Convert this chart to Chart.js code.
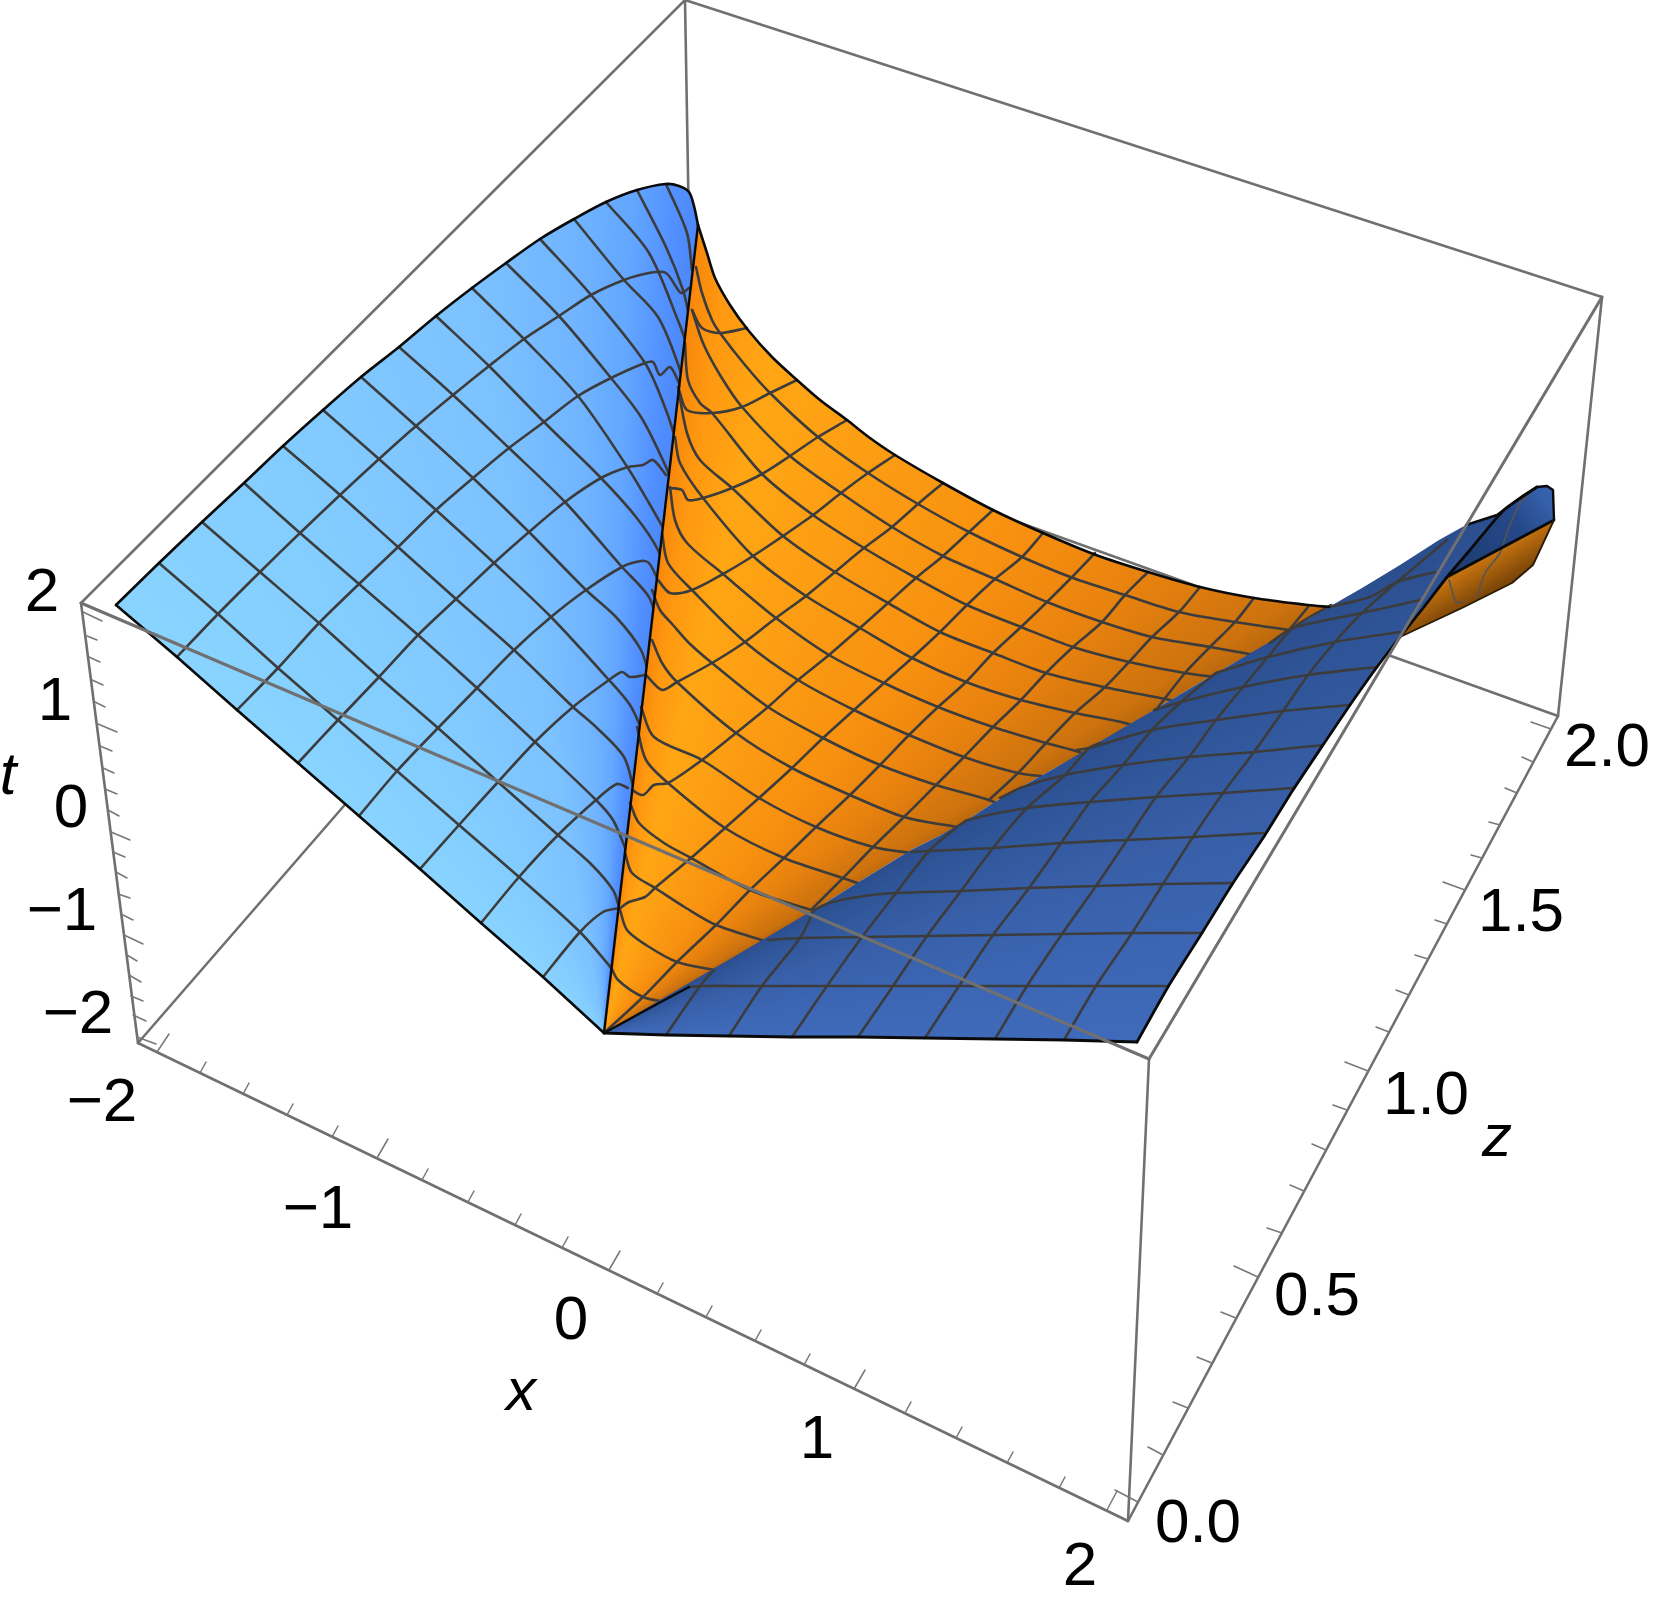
<!DOCTYPE html>
<html>
<head>
<meta charset="utf-8">
<title>Surface plot</title>
<script src="https://cdn.jsdelivr.net/npm/chart.js@4"></script>
<style>
  html, body { margin: 0; padding: 0; background: #fff; }
  canvas { display: block; }
</style>
</head>
<body>
<canvas id="plot" width="1661" height="1603"></canvas>
<script>
const boxBack = [
  [[81, 603], [685, 0]], [[685, 0], [1602, 297]], [[685, 0], [692, 405]],
  [[138, 1043], [692, 405]], [[1558, 716], [692, 405]], [[1602, 297], [1558, 716]],
  [[81, 603], [138, 1043]], [[138, 1043], [1128, 1521]], [[1128, 1521], [1558, 716]],
  [[1128, 1521], [1149, 1059]],
];
const boxFront = [[[81, 603], [1149, 1059]], [[1149, 1059], [1602, 297]]];

const lightTop = [[116, 605], [159, 563], [202, 522], [244, 483], [283, 446], [323, 410], [361, 377], [399, 347], [436, 316], [472, 288], [506, 263], [540, 239], [574, 219], [606, 202], [637, 190], [666, 184], [679, 186], [689, 192], [694, 206], [698, 225]];
const lightBottom = [[604, 1033], [543, 977], [481, 923], [420, 869], [359, 816], [298, 763], [237, 710], [177, 657], [116, 605]];
const seam = [[698, 225], [604, 1033]];

const lightRows = [
  [[159, 563], [218, 614], [278, 668], [338, 720], [397, 771], [459, 825], [519, 877], [580, 932], [613, 970]],
  [[202, 522], [260, 572], [319, 623], [379, 677], [438, 728], [498, 782], [558, 835], [590, 863], [613, 890], [620, 910]],
  [[244, 483], [300, 533], [359, 584], [418, 635], [477, 688], [535, 742], [596, 800], [613, 820], [626, 850]],
  [[283, 446], [340, 495], [398, 547], [456, 599], [514, 650], [573, 707], [597, 728], [624, 757], [634, 790]],
  [[323, 410], [379, 459], [436, 510], [494, 563], [551, 617], [609, 680], [630, 705], [642, 730]],
  [[361, 377], [416, 426], [473, 478], [529, 532], [586, 590], [616, 617], [641, 650], [650, 680]],
  [[399, 347], [453, 395], [509, 448], [565, 502], [622, 567], [649, 597], [658, 625]],
  [[436, 316], [489, 366], [544, 422], [601, 478], [636, 517], [658, 550], [668, 580]],
  [[472, 288], [524, 339], [578, 396], [626, 465], [649, 503], [666, 533]],
  [[506, 263], [559, 316], [611, 378], [641, 417], [666, 467], [674, 490]],
  [[540, 239], [591, 295], [645, 363], [666, 410], [679, 450]],
  [[574, 219], [624, 280], [658, 317], [679, 367], [686, 395]],
  [[606, 202], [649, 253], [679, 323], [687, 345]],
  [[637, 190], [666, 247], [683, 290], [690, 320]],
  [[666, 184], [687, 233], [692, 270]],
];
const lightCols = [
  [[177, 657], [218, 614], [260, 572], [300, 533], [340, 495], [379, 459], [416, 426], [453, 395], [489, 366], [524, 339], [559, 316], [591, 295], [624, 280], [649, 273], [666, 273], [681, 293], [689, 288]],
  [[237, 710], [278, 668], [319, 623], [359, 584], [398, 547], [436, 510], [473, 478], [509, 448], [544, 422], [578, 396], [611, 378], [645, 363], [653, 362], [660, 375], [670, 367], [680, 385]],
  [[298, 763], [338, 720], [379, 677], [418, 635], [456, 599], [494, 563], [529, 532], [565, 502], [601, 478], [628, 467], [643, 465], [653, 460], [666, 475]],
  [[359, 816], [397, 771], [438, 728], [477, 688], [514, 650], [551, 617], [586, 590], [622, 567], [641, 561], [649, 563], [658, 580]],
  [[420, 869], [459, 825], [498, 782], [535, 742], [573, 707], [609, 680], [622, 672], [630, 677], [645, 675]],
  [[481, 923], [519, 877], [558, 835], [596, 800], [617, 784], [628, 788]],
  [[543, 977], [580, 932], [603, 912], [619, 908]],
];

const orangeTop = [[698, 225], [707, 253], [715, 278], [730, 305], [748, 330], [772, 357], [797, 380], [820, 400], [847, 420], [870, 438], [895, 455], [943, 483], [993, 510], [1043, 533], [1096, 555], [1148, 572], [1200, 587], [1254, 598], [1308, 605], [1329, 607]];
const ridge = [[1329, 607], [1270, 643], [1216, 673], [1154, 710], [1100, 743], [1046, 773], [993, 803], [957, 827], [911, 850], [857, 883], [814, 910], [768, 940], [714, 970], [689, 987], [659, 1003], [604, 1033]];

const orangeRows = [
  [[696, 267], [702, 293], [712, 320], [720, 333], [745, 365], [770, 393], [818, 437], [868, 473], [918, 504], [969, 532], [1022, 557], [1073, 578], [1125, 595], [1179, 612], [1235, 622], [1289, 630]],
  [[692, 310], [703, 343], [720, 375], [742, 407], [790, 456], [841, 493], [892, 527], [943, 556], [995, 579], [1047, 602], [1102, 622], [1152, 637], [1210, 647], [1266, 657]],
  [[685, 343], [688, 380], [700, 403], [712, 413], [762, 474], [813, 515], [864, 548], [916, 578], [967, 605], [1021, 627], [1073, 647], [1129, 662], [1185, 673], [1240, 680]],
  [[678, 387], [687, 433], [700, 460], [732, 488], [783, 536], [835, 572], [888, 603], [940, 632], [993, 653], [1046, 673], [1104, 687], [1160, 698], [1210, 708]],
  [[675, 437], [680, 463], [703, 498], [753, 556], [806, 596], [860, 628], [912, 658], [966, 682], [1021, 700], [1075, 713], [1125, 723], [1160, 735]],
  [[670, 487], [675, 520], [687, 543], [723, 574], [776, 618], [829, 655], [884, 683], [938, 707], [993, 727], [1046, 743], [1079, 752], [1100, 760]],
  [[662, 533], [668, 563], [692, 590], [745, 642], [798, 680], [854, 710], [909, 735], [964, 757], [1018, 773], [1050, 777]],
  [[652, 590], [660, 610], [673, 625], [689, 643], [712, 663], [768, 707], [823, 738], [880, 765], [936, 785], [989, 800], [1010, 810]],
  [[652, 640], [662, 663], [677, 682], [736, 733], [792, 768], [850, 795], [904, 817], [957, 827]],
  [[641, 707], [654, 737], [702, 760], [759, 798], [816, 827], [873, 847], [911, 853]],
  [[637, 727], [646, 760], [668, 783], [725, 828], [784, 858], [843, 878], [860, 884]],
  [[630, 803], [639, 823], [664, 843], [691, 858], [750, 890], [811, 910]],
  [[625, 853], [632, 873], [655, 888], [686, 908], [716, 925], [768, 942]],
  [[620, 910], [627, 930], [646, 945], [677, 962], [714, 970]],
  [[611, 967], [618, 980], [643, 997], [666, 1002]],
];
const orangeCols = [
  [[692, 310], [702, 328], [720, 333], [747, 328]],
  [[679, 390], [687, 410], [712, 413], [742, 407], [770, 393], [797, 380]],
  [[670, 488], [682, 490], [688, 500], [703, 498], [732, 488], [762, 474], [790, 456], [818, 437], [847, 420]],
  [[658, 580], [670, 593], [692, 590], [723, 574], [753, 556], [783, 536], [813, 515], [841, 493], [868, 473], [895, 455]],
  [[646, 675], [662, 690], [677, 682], [712, 663], [745, 642], [776, 618], [806, 596], [835, 572], [864, 548], [892, 527], [918, 504], [943, 483]],
  [[632, 790], [643, 795], [654, 785], [668, 783], [702, 760], [736, 733], [768, 707], [798, 680], [829, 655], [860, 628], [888, 603], [916, 578], [943, 556], [969, 532], [993, 510]],
  [[618, 910], [629, 902], [645, 897], [655, 888], [691, 858], [725, 828], [759, 798], [792, 768], [823, 738], [854, 710], [884, 683], [912, 658], [940, 632], [967, 605], [995, 579], [1022, 557], [1043, 533]],
  [[604, 1033], [643, 997], [677, 962], [716, 925], [750, 890], [784, 858], [816, 827], [850, 795], [880, 765], [909, 735], [938, 707], [966, 682], [993, 653], [1021, 627], [1047, 602], [1072, 577], [1095, 553]],
  [[811, 910], [843, 878], [873, 847], [904, 817], [936, 785], [964, 757], [993, 727], [1021, 700], [1046, 673], [1073, 647], [1102, 622], [1125, 595], [1148, 572]],
  [[989, 800], [1018, 773], [1046, 743], [1075, 713], [1104, 688], [1129, 662], [1152, 637], [1179, 612], [1200, 587]],
  [[1156, 710], [1185, 673], [1210, 647], [1235, 622], [1254, 598]],
  [[1266, 657], [1289, 630], [1308, 607]],
];

const darkTop = [[1329, 607], [1362, 588], [1400, 565], [1439, 540], [1466, 525], [1497, 515], [1524, 495], [1537, 487]];
const darkRight = [[1537, 487], [1504, 510], [1470, 550], [1447, 577], [1424, 607], [1400, 637], [1377, 667], [1350, 705], [1323, 745], [1293, 790], [1265, 835], [1233, 883], [1202, 933], [1168, 987], [1137, 1042]];
const darkBottom = [[1137, 1042], [1064, 1040], [995, 1039], [925, 1038], [858, 1037], [792, 1037], [729, 1036], [666, 1035], [604, 1033]];

const darkRows = [
  [[689, 987], [700, 986], [762, 986], [827, 986], [893, 986], [959, 986], [1027, 986], [1096, 986], [1168, 986]],
  [[768, 940], [800, 938], [862, 937], [927, 936], [993, 935], [1062, 934], [1132, 933], [1202, 933]],
  [[814, 910], [829, 903], [864, 896], [896, 893], [961, 891], [1029, 888], [1096, 886], [1163, 884], [1233, 883]],
  [[911, 852], [929, 851], [993, 848], [1061, 843], [1127, 840], [1193, 837], [1263, 833]],
  [[957, 827], [968, 820], [1027, 808], [1090, 802], [1156, 797], [1223, 793], [1293, 788]],
  [[1000, 798], [1023, 787], [1065, 775], [1123, 765], [1189, 757], [1254, 752], [1323, 745]],
  [[1077, 750], [1089, 748], [1152, 730], [1216, 720], [1283, 711], [1350, 705]],
  [[1154, 710], [1181, 702], [1243, 687], [1308, 675], [1377, 667]],
  [[1216, 673], [1268, 657], [1335, 642], [1400, 632]],
  [[1270, 643], [1293, 628], [1362, 613], [1420, 600]],
  [[1329, 607], [1370, 597], [1397, 582], [1435, 572]],
];
const darkCols = [
  [[666, 1035], [700, 986], [714, 970]],
  [[729, 1036], [762, 986], [800, 938], [814, 910]],
  [[792, 1037], [827, 986], [862, 937], [896, 893], [929, 851], [957, 827]],
  [[858, 1037], [893, 986], [927, 936], [961, 891], [993, 848], [1027, 808], [1065, 775], [1089, 748], [1100, 743]],
  [[925, 1038], [959, 986], [993, 935], [1029, 888], [1061, 843], [1090, 802], [1123, 765], [1152, 730], [1181, 702], [1216, 673]],
  [[995, 1039], [1027, 986], [1062, 934], [1096, 886], [1127, 840], [1156, 797], [1189, 757], [1216, 720], [1243, 687], [1268, 657], [1293, 628], [1331, 605]],
  [[1064, 1040], [1096, 986], [1132, 933], [1163, 884], [1193, 837], [1223, 793], [1254, 752], [1283, 711], [1308, 675], [1335, 642], [1362, 613], [1397, 582], [1447, 540]],
];

const tipOrange = [[1447, 577], [1554, 520], [1533, 565], [1512, 583], [1462, 608], [1400, 637]];
const tipBlue = [[1447, 577], [1470, 550], [1504, 510], [1537, 487], [1547, 486], [1553, 490], [1554, 520]];
const tipMesh = [
  [[1449, 580], [1456, 602], [1464, 602]],
  [[1477, 597], [1485, 573], [1500, 553], [1508, 530], [1520, 503], [1533, 490]],
];

const tTicks = [
  [83, 612, 102, 621], [87, 636, 97, 640], [89, 657, 100, 662], [92, 680, 103, 685], [95, 702, 105, 707],
  [98, 724, 117, 732], [100, 746, 112, 751], [103, 768, 114, 773], [105, 789, 117, 794], [108, 810, 119, 816],
  [111, 832, 130, 840], [113, 852, 125, 857], [116, 872, 127, 878], [118, 894, 130, 898], [121, 914, 133, 920],
  [124, 935, 143, 944], [127, 955, 137, 961], [129, 975, 141, 982], [131, 996, 143, 1001], [133, 1015, 146, 1021],
  [137, 1037, 156, 1044],
];
const xTicks = [
  [157, 1052, 169, 1034], [200, 1073, 206, 1062], [243, 1094, 249, 1083], [287, 1115, 293, 1104], [332, 1137, 338, 1126],
  [377, 1158, 388, 1139], [422, 1180, 428, 1169], [468, 1202, 474, 1191], [515, 1225, 521, 1214], [562, 1248, 568, 1237],
  [609, 1270, 620, 1251], [657, 1294, 663, 1283], [706, 1317, 712, 1306], [755, 1341, 761, 1330], [804, 1365, 810, 1354],
  [854, 1389, 865, 1370], [905, 1413, 911, 1402], [956, 1438, 962, 1427], [1007, 1463, 1013, 1452], [1059, 1488, 1065, 1477],
  [1107, 1510, 1117, 1491],
];
const zTicks = [
  [1138, 1502, 1115, 1490], [1163, 1455, 1148, 1447], [1188, 1408, 1173, 1402], [1212, 1363, 1197, 1357], [1236, 1318, 1221, 1312],
  [1258, 1277, 1234, 1266], [1282, 1233, 1267, 1228], [1304, 1191, 1290, 1185], [1326, 1150, 1312, 1144], [1347, 1110, 1333, 1105],
  [1368, 1071, 1345, 1062], [1389, 1032, 1376, 1027], [1409, 995, 1396, 990], [1428, 959, 1415, 955], [1447, 924, 1435, 920],
  [1465, 890, 1443, 882], [1482, 858, 1471, 855], [1500, 825, 1489, 822], [1517, 793, 1505, 788], [1533, 762, 1522, 757],
  [1551, 729, 1531, 722],
];

const tickLabels = [
  ["2", 42, 594], ["1", 55, 703], ["0", 71, 810], ["\u22121", 62, 913], ["\u22122", 78, 1016],
  ["\u22122", 102, 1104], ["\u22121", 318, 1211], ["0", 571, 1322], ["1", 817, 1441], ["2", 1080, 1568],
  ["0.0", 1198, 1525], ["0.5", 1317, 1298], ["1.0", 1426, 1097], ["1.5", 1521, 914], ["2.0", 1607, 749],
];
const axisLabels = [["t", 8, 777], ["x", 521, 1393], ["z", 1497, 1139]];

const fanApex = [604, 1033];
const lightShades = [[-140, "#89d4ff"], [-120, "#83ccff"], [-100, "#7cc2ff"], [-92, "#70b4ff"], [-88, "#62a6ff"], [-85, "#528fff"], [-83, "#4a86f5"]];
const orangeShades = [[-84, "#f5820a"], [-81, "#ff9810"], [-76, "#ffa614"], [-62, "#fb9a12"], [-50, "#f7900f"], [-40, "#e8820e"], [-32, "#cc720e"], [-30, "#b5650c"]];
const darkShades = [[-31, "#2b4d8d"], [-27, "#2f5598"], [-18, "#385fa8"], [-8, "#3c66b3"], [0, "#3f6ab9"]];

const meshColor = "#3c3c3c";
const edgeColor = "#0a0a0a";
const boxColor = "#707070";
const tickColor = "#777777";

function fanShade(shades) {
  return function (context) {
    const chart = context.chart;
    const cx = chart.scales.x.getPixelForValue(fanApex[0]);
    const cy = chart.scales.y.getPixelForValue(fanApex[1]);
    // options get resolved once before the scales have a layout
    if (!isFinite(cx) || !isFinite(cy)) return shades[0][1];
    const gradient = chart.ctx.createConicGradient(-Math.PI, cx, cy);
    shades.forEach(function (shade) {
      gradient.addColorStop((shade[0] + 180) / 360, shade[1]);
    });
    return gradient;
  };
}

function bandShade(from, to, stops) {
  return function (context) {
    const chart = context.chart;
    const { x, y } = chart.scales;
    const x0 = x.getPixelForValue(from[0]);
    const y0 = y.getPixelForValue(from[1]);
    const x1 = x.getPixelForValue(to[0]);
    const y1 = y.getPixelForValue(to[1]);
    if (![x0, y0, x1, y1].every(isFinite)) return stops[0][1];
    const gradient = chart.ctx.createLinearGradient(x0, y0, x1, y1);
    stops.forEach(function (stop) {
      gradient.addColorStop(stop[0], stop[1]);
    });
    return gradient;
  };
}

function toPoints(list) {
  return list.map((p) => ({ x: p[0], y: p[1] }));
}

const painted = [];

function addLine(list, color, width, tension) {
  painted.push({
    data: toPoints(list),
    showLine: true,
    fill: false,
    borderColor: color,
    borderWidth: width,
    tension: tension || 0,
    pointRadius: 0,
    borderCapStyle: "round",
    borderJoinStyle: "round",
  });
}

function addPatch(list, shade) {
  painted.push({
    data: toPoints(list),
    showLine: true,
    fill: "shape",
    backgroundColor: shade,
    borderWidth: 0,
    pointRadius: 0,
    tension: 0,
  });
}

function addMesh(lines) {
  lines.forEach((line) => addLine(line, meshColor, 2.6, 0.3));
}

function addTicks(ticks) {
  ticks.forEach((t) => addLine([[t[0], t[1]], [t[2], t[3]]], tickColor, 1.5));
}

boxBack.forEach((edge) => addLine(edge, boxColor, 2.6));
addTicks(tTicks);
addTicks(xTicks);
addTicks(zTicks);

addPatch(lightTop.concat(lightBottom), fanShade(lightShades));
addMesh(lightCols);
addMesh(lightRows);

addPatch(orangeTop.concat(ridge), fanShade(orangeShades));
addMesh(orangeRows);
addMesh(orangeCols);

addPatch(tipOrange, bandShade([1490, 555], [1512, 592], [[0, "#c4720f"], [1, "#643706"]]));
addPatch(ridge.slice().reverse().concat(darkBottom.slice().reverse(), darkRight.slice().reverse(), darkTop.slice().reverse()), fanShade(darkShades));
addMesh(darkRows);
addMesh(darkCols);
addPatch(tipBlue, bandShade([1470, 560], [1552, 500], [[0, "#1f3e75"], [0.6, "#26498a"], [0.95, "#3560ab"]]));
tipMesh.forEach((line) => addLine(line, "#555555", 1.6, 0.2));

addLine(lightTop, edgeColor, 2.6, 0.3);
addLine(lightBottom, edgeColor, 2.6);
addLine(seam, edgeColor, 2.4);
addLine(orangeTop, edgeColor, 2.6, 0.3);
addLine(darkBottom, edgeColor, 2.8);
addLine(darkRight, edgeColor, 2.8, 0.2);
addLine(darkTop.slice(4), edgeColor, 2.4);
addLine(tipBlue.slice(3), edgeColor, 2.4);
addLine(tipOrange.slice(0, 2), edgeColor, 2.8);
addLine(tipOrange.slice(1), "#2a1a05", 1.8);
addLine(ridge.slice(-3), edgeColor, 2.2);

boxFront.forEach((edge) => addLine(edge, boxColor, 3));

const labelsPlugin = {
  id: "plotLabels",
  afterDraw(chart) {
    const ctx = chart.ctx;
    const { x, y } = chart.scales;
    ctx.save();
    ctx.fillStyle = "#000";
    ctx.textAlign = "center";
    ctx.textBaseline = "middle";
    ctx.font = "62px 'Liberation Sans'";
    tickLabels.forEach((l) => {
      ctx.fillText(l[0], x.getPixelForValue(l[1]), y.getPixelForValue(l[2]));
    });
    ctx.font = "italic 60px 'Liberation Sans'";
    axisLabels.forEach((l) => {
      ctx.fillText(l[0], x.getPixelForValue(l[1]), y.getPixelForValue(l[2]));
    });
    ctx.restore();
  },
};

// chart.js paints dataset 0 last, so flip the paint order
new Chart(document.querySelector("#plot").getContext("2d"), {
  type: "scatter",
  data: { datasets: painted.reverse() },
  options: {
    responsive: false,
    animation: false,
    layout: { padding: 0 },
    plugins: {
      legend: { display: false },
      title: { display: false },
      tooltip: { enabled: false },
      filler: { propagate: false },
    },
    scales: {
      x: { type: "linear", min: 0, max: 1661, display: false },
      y: { type: "linear", min: 0, max: 1603, reverse: true, display: false },
    },
  },
  plugins: [labelsPlugin],
});
</script>
</body>
</html>
